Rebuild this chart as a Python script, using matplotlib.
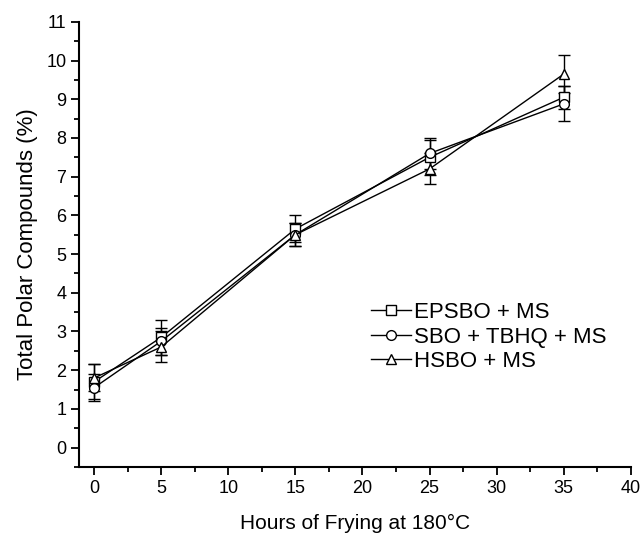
import matplotlib
matplotlib.use("Agg")
import matplotlib.pyplot as plt
from matplotlib.lines import Line2D
from matplotlib.ticker import MultipleLocator

plt.rcParams['font.family'] = ['Liberation Sans', 'DejaVu Sans']

hours = [0, 5, 15, 25, 35]

epsbo = [1.7, 2.85, 5.65, 7.5, 9.05]
epsbo_err = [0.45, 0.45, 0.35, 0.45, 0.3]

sbo = [1.55, 2.75, 5.5, 7.6, 8.88]
sbo_err = [0.35, 0.35, 0.3, 0.4, 0.45]

hsbo = [1.8, 2.6, 5.5, 7.2, 9.65]
hsbo_err = [0.35, 0.4, 0.3, 0.4, 0.5]

series = [
    (epsbo, epsbo_err, 's', 'EPSBO + MS'),
    (sbo, sbo_err, 'o', 'SBO + TBHQ + MS'),
    (hsbo, hsbo_err, '^', 'HSBO + MS'),
]

fig = plt.figure(figsize=(6.41, 5.33), dpi=100)
ax = fig.add_axes([0.124, 0.124, 0.86, 0.835])

handles = []
for y, err, marker, label in series:
    style = dict(color='black', linewidth=1.0, marker=marker, markersize=7,
                 markerfacecolor='white', markeredgecolor='black',
                 markeredgewidth=1.0)
    ax.errorbar(hours, y, yerr=err, ecolor='black', elinewidth=1.0,
                capsize=4, capthick=1.0, **style)
    handles.append(Line2D([], [], label=label, **style))

ax.set_xlim(-1.1, 40)
ax.set_ylim(-0.5, 11)
ax.xaxis.set_major_locator(MultipleLocator(5))
ax.xaxis.set_minor_locator(MultipleLocator(2.5))
ax.yaxis.set_major_locator(MultipleLocator(1))
ax.yaxis.set_minor_locator(MultipleLocator(0.5))

ax.spines['top'].set_visible(False)
ax.spines['right'].set_visible(False)
for s in ['left', 'bottom']:
    ax.spines[s].set_linewidth(1.5)
ax.tick_params(which='major', direction='out', length=6, width=1.3, labelsize=13)
ax.tick_params(which='minor', direction='out', length=3.5, width=1.3)

ax.set_xlabel("Hours of Frying at 180°C", fontsize=15, labelpad=12)
ax.set_ylabel("Total Polar Compounds (%)", fontsize=16, labelpad=6)

ax.legend(handles=handles, loc='upper left', bbox_to_anchor=(0.512, 0.39),
          frameon=False, fontsize=16, handlelength=1.8, handletextpad=0.15,
          labelspacing=0.15, borderaxespad=0.0)

fig.savefig("out.png", dpi=100)
